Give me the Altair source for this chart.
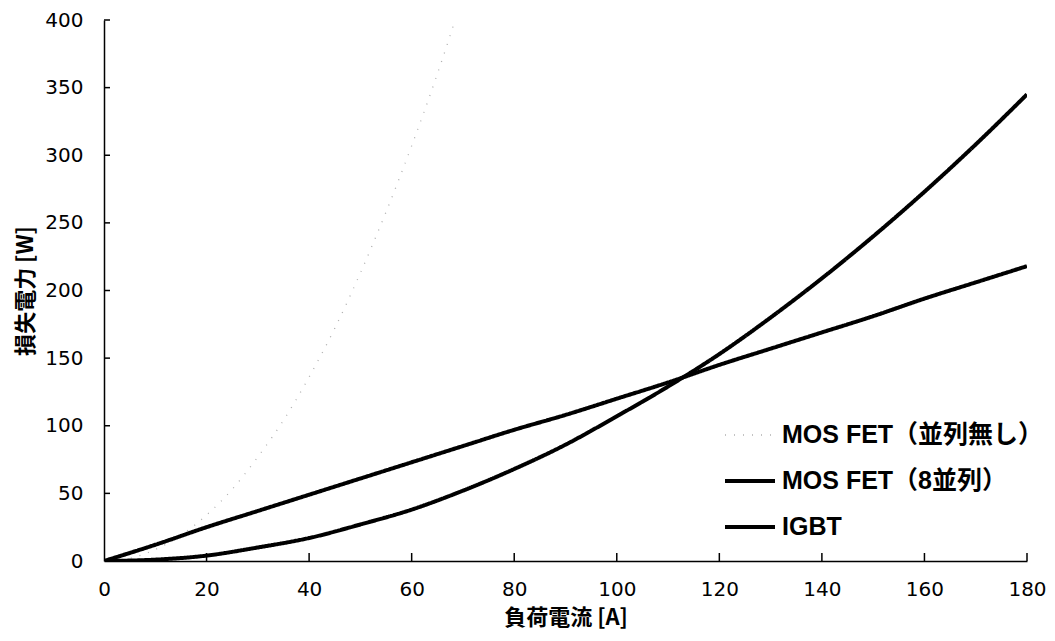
import altair as alt
import pandas as pd

# ---- data ----
current = [0, 10, 20, 30, 40, 50, 60, 70, 80, 90, 100, 110, 120, 130, 140, 150, 160, 170, 180]
igbt = [0, 12, 25, 37, 49, 61, 73, 85, 97, 108, 120, 132, 145, 157, 169, 181, 194, 206, 218]
mos8 = [0, 1, 4, 10, 17, 27, 38, 52, 68, 86, 107, 129, 153, 180, 209, 240, 273, 308, 345]

current_single = [0, 5, 10, 15, 20, 25, 30, 35, 40, 45, 50, 55, 60, 65, 70]
mos_single = [0, 2, 8.5, 19, 34, 53, 77, 104, 136, 172, 213, 258, 307, 360, 418]

series_names = ["MOS FET（並列無し）", "MOS FET（8並列）", "IGBT"]
x_ticks = [0, 20, 40, 60, 80, 100, 120, 140, 160, 180]
y_ticks = [0, 50, 100, 150, 200, 250, 300, 350, 400]

W, H = 923, 541

rows = []
for xv, yv in zip(current_single, mos_single):
    rows.append({"電流": xv, "損失": yv, "系列": series_names[0]})
for xv, yv in zip(current, mos8):
    rows.append({"電流": xv, "損失": yv, "系列": series_names[1]})
for xv, yv in zip(current, igbt):
    rows.append({"電流": xv, "損失": yv, "系列": series_names[2]})
df = pd.DataFrame(rows)

xscale = alt.Scale(domain=[0, 180], nice=False, zero=True)
yscale = alt.Scale(domain=[0, 400], nice=False, zero=True)

legend = alt.Legend(
    title=None,
    orient="none",
    legendX=619,
    legendY=389,
    symbolType="stroke",
    symbolSize=2500,
    rowPadding=6,
    labelOffset=5,
    labelFont="Liberation Sans, Noto Sans CJK JP",
    labelFontSize=25,
    labelFontWeight="bold",
    labelColor="black",
    labelLimit=400,
)

lines = alt.Chart(df).mark_line(interpolate="monotone", clip=True).encode(
    x=alt.X("電流:Q", scale=xscale,
            axis=alt.Axis(title="負荷電流 [A]", values=x_ticks, format="d")),
    y=alt.Y("損失:Q", scale=yscale,
            axis=alt.Axis(title="損失電力 [W]", values=y_ticks, format="d")),
    color=alt.Color("系列:N", sort=series_names,
                    scale=alt.Scale(domain=series_names, range=["#b0b0b0", "black", "black"]),
                    legend=legend),
    strokeDash=alt.StrokeDash("系列:N", sort=series_names,
                              scale=alt.Scale(domain=series_names, range=[[1, 8], [1, 0], [1, 0]]),
                              legend=legend),
    strokeWidth=alt.StrokeWidth("系列:N", sort=series_names,
                                scale=alt.Scale(type="ordinal", domain=series_names, range=[1.3, 4, 4]),
                                legend=legend),
    detail="系列:N",
)

# inward-pointing tick marks
xt = alt.Chart(pd.DataFrame({"t": x_ticks[1:]})).mark_rule(color="black", strokeWidth=1.5).encode(
    x=alt.X("t:Q", scale=xscale),
    y=alt.value(H),
    y2=alt.value(H - 8),
)
yt = alt.Chart(pd.DataFrame({"t": y_ticks[1:]})).mark_rule(color="black", strokeWidth=1.5).encode(
    y=alt.Y("t:Q", scale=yscale),
    x=alt.value(0),
    x2=alt.value(6),
)

chart = alt.layer(lines, xt, yt).properties(
    width=W,
    height=H,
    autosize=alt.AutoSizeParams(type="none"),
    padding={"left": 96, "top": 12, "right": 20, "bottom": 72},
).configure_view(stroke=None).configure_axis(
    grid=False,
    tickSize=0,
    domainColor="black",
    domainWidth=1.5,
    labelFont="DejaVu Sans",
    labelFontSize=20,
    labelColor="black",
    titleFont="Noto Sans CJK JP",
    titleFontSize=22,
    titleFontWeight="bold",
    titleColor="black",
).configure_axisX(
    labelPadding=18,
    titlePadding=8,
    labelFlush=False,
).configure_axisY(
    labelPadding=21,
    titlePadding=7,
)

chart.save("out.html", embed_options={"renderer": "svg", "actions": False})
